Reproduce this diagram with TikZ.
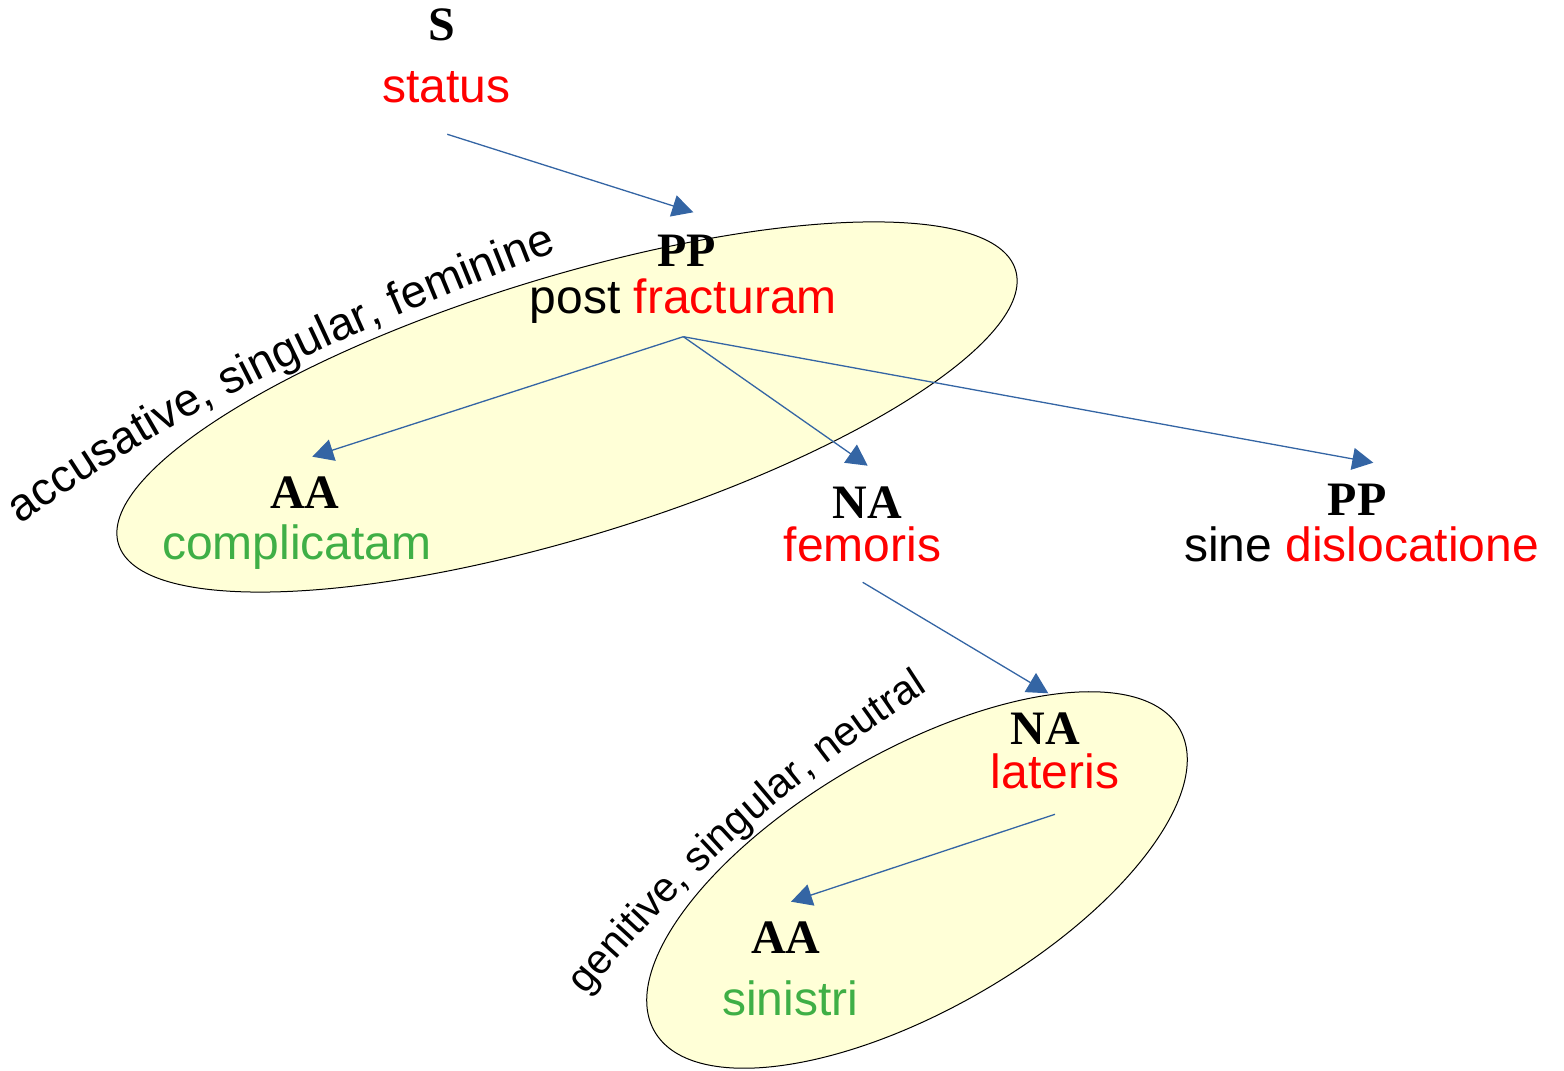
\documentclass[tikz,border=0pt]{standalone}
\usepackage{fontspec}
\setmainfont{Liberation Sans}
\newfontfamily\capfont{Liberation Serif}
\usetikzlibrary{arrows.meta,decorations.text,shapes.geometric}
\definecolor{arrowblue}{HTML}{3465A4}
\definecolor{wred}{HTML}{FF0000}
\definecolor{wgreen}{HTML}{3FAF46}
\definecolor{ellfill}{HTML}{FFFFD7}
\begin{document}
\begin{tikzpicture}[x=0.5pt,y=0.5pt,
  word/.style={anchor=base, inner sep=0pt, font=\fontsize{24}{28}\selectfont},
  tag/.style={anchor=base, inner sep=0pt, font=\capfont\bfseries\fontsize{24}{28}\selectfont},
  link/.style={draw=arrowblue, line width=0.65pt, -{Triangle[length=10.5pt,width=11pt]}},
  group/.style={ellipse, draw=black, line width=0.5pt, fill=ellfill, inner sep=0pt, outer sep=0pt}]
\useasboundingbox (0,0) rectangle (1564,1071);

% groups
\node[group, minimum width=469pt, minimum height=130pt, rotate=17] (g1) at (567,664) {};
\node[group, minimum width=303pt, minimum height=129pt, rotate=30] (g2) at (917,191) {};

% words
\node[tag] (S) at (442,1030) {S};
\node[word, text=wred] (status) at (446.5,968.3) {status};
\node[tag] (PP1) at (686.7,804.3) {PP};
\node[word] (post) at (683.3,757.7) {post \textcolor{wred}{fracturam}};
\node[tag] (AA1) at (304.7,562.7) {AA};
\node[word, text=wgreen] (compl) at (297,511) {complicatam};
\node[tag] (NA1) at (867.5,552) {NA};
\node[word, text=wred] (fem) at (862.5,509.3) {femoris};
\node[tag] (PP2) at (1357,555) {PP};
\node[word] (sine) at (1361.5,509.3) {sine \textcolor{wred}{dislocatione}};
\node[tag] (NA2) at (1045.5,326) {NA};
\node[word, text=wred] (lat) at (1055,282.7) {lateris};
\node[tag] (AA2) at (786,117.7) {AA};
\node[word, text=wgreen] (sin) at (790,55) {sinistri};

% connector ends
\coordinate (a0) at (447.3,936.7);
\coordinate (a1) at (693.3,858.7);
\coordinate (b0) at (683.3,734.3);
\coordinate (b1) at (312.3,614.3);
\coordinate (b2) at (867.7,605.3);
\coordinate (b3) at (1373.3,608.3);
\coordinate (c0) at (862.7,488.7);
\coordinate (c1) at (1048.3,377.7);
\coordinate (d0) at (1055,256.7);
\coordinate (d1) at (791,169.3);

\draw[link] (a0) -- (a1);
\draw[link] (b0) -- (b1);
\draw[link] (b0) -- (b2);
\draw[link] (b0) -- (b3);
\draw[link] (c0) -- (c1);
\draw[link] (d0) -- (d1);

% curved labels
\path[decorate, decoration={text along path, text align=center,
  text={|\fontsize{23}{27}\selectfont|accusative{,} singular{,} feminine}}]
  (-26.6,512.6) -- (22,548) .. controls (184,666) and (368,747) .. (555,819) -- (611,840.6);
\path[decorate, decoration={text along path, text align=center,
  text={|\fontsize{20.7}{25}\selectfont|genitive{,} singular{,} neutral}}]
  (549.6,32) -- (588,78) .. controls (684,193) and (799,296) .. (925,378) -- (975.3,410.7);
\end{tikzpicture}
\end{document}
